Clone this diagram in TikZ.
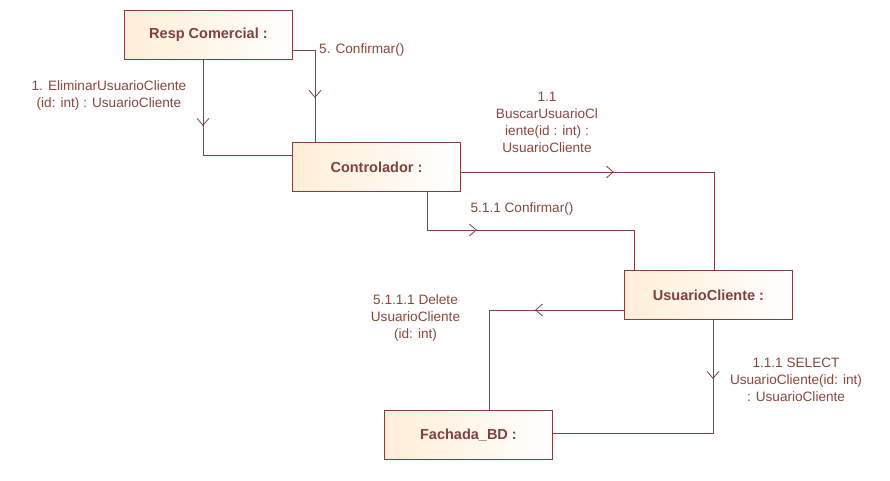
\documentclass[tikz,border=0pt]{standalone}
\usepackage{fontspec}
\setmainfont{Liberation Sans}
\usetikzlibrary{arrows.meta,decorations.markings}
\definecolor{edge}{RGB}{128,64,64}
\definecolor{lbl}{RGB}{136,72,60}
\definecolor{boxfill}{RGB}{255,238,214}
\tikzset{
  obj/.style={draw=edge, line width=0.9pt, minimum width=168pt, minimum height=49pt,
    inner sep=0pt, left color=boxfill, right color=white, shading angle=90,
    text=edge, font=\fontsize{14.5}{17}\selectfont\bfseries, anchor=north west},
  msg/.style={text=lbl, font=\fontsize{13.6}{17}\selectfont, align=center, inner sep=0pt},
  link/.style={draw=edge, line width=0.9pt},
  tipat/.style={postaction={decorate, decoration={markings,
    mark=at position #1 with {\arrow{Straight Barb[length=7pt,width=12pt,line width=0.8pt]}}}}}
}
\begin{document}
\begin{tikzpicture}[x=1pt,y=-1pt]
\useasboundingbox (0,0) rectangle (890,481);
\fill[white] (0,0) rectangle (890,481);
% objects
\node[obj] (resp) at (124,10) {Resp Comercial :};
\node[obj] (ctrl) at (292,142) {Controlador :};
\node[obj] (uc) at (624,270) {UsuarioCliente :};
\node[obj] (fbd) at (384,410) {Fachada\_BD :};
% corner coordinates
\coordinate (c1) at (203,155);
\coordinate (c2) at (315,50);
\coordinate (c3) at (714,172);
\coordinate (c4a) at (427,230);
\coordinate (c4b) at (634,230);
\coordinate (c5) at (489,310);
\coordinate (c6) at (713,433);
% connectors
\draw[link, tipat=66pt] (resp.south west -| c1) -- (c1) -- (ctrl.west |- c1);
\draw[link, tipat=70pt] (resp.east |- c2) -- (c2) -- (ctrl.north west -| c2);
\draw[link, tipat=153pt] (ctrl.east |- c3) -- (c3) -- (uc.north west -| c3);
\draw[link, tipat=88pt] (ctrl.south west -| c4a) -- (c4a) -- (c4b) -- (uc.north west -| c4b);
\draw[link, tipat=89pt] (uc.west |- c5) -- (c5) -- (fbd.north west -| c5);
\draw[link, tipat=59pt] (uc.south west -| c6) -- (c6) -- (fbd.east |- c6);
% labels
\node[msg] (m1) at (109,95) {1. EliminarUsuarioCliente\\(id: int) : UsuarioCliente};
\node[msg, anchor=west] (m5) at (319,50) {5. Confirmar()};
\node[msg] (m11) at (547,122.5) {1.1\\BuscarUsuarioCl\\iente(id : int) :\\UsuarioCliente};
\node[msg] (m511) at (522,209) {5.1.1 Confirmar()};
\node[msg] (m5111) at (415.5,318) {5.1.1.1 Delete\\UsuarioCliente\\(id: int)};
\node[msg] (m111) at (796,380) {1.1.1 SELECT\\UsuarioCliente(id: int)\\: UsuarioCliente};
\end{tikzpicture}
\end{document}
